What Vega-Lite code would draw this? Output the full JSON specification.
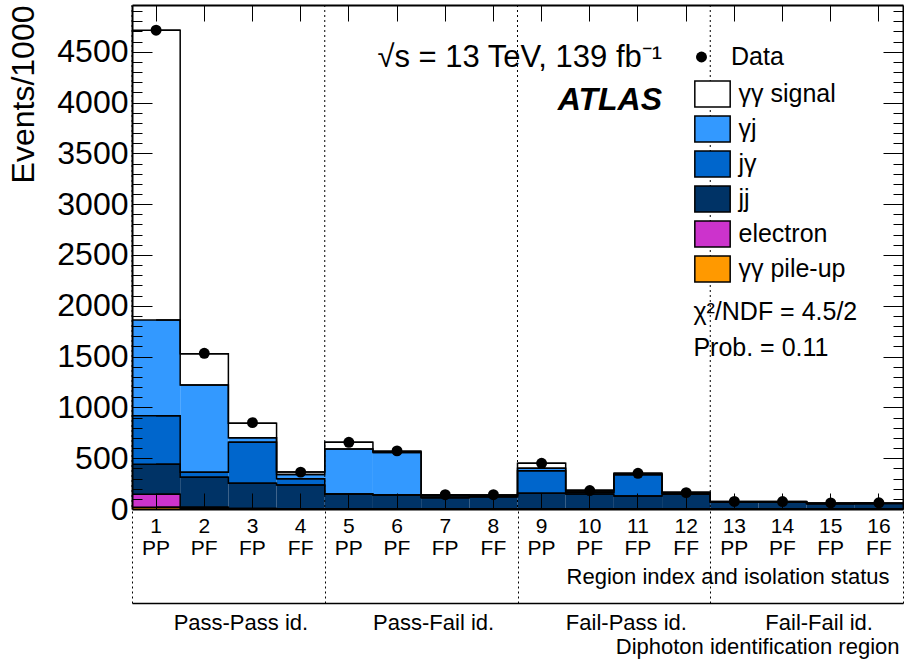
{
  "$schema": "https://vega.github.io/schema/vega-lite/v6.json",
  "width": 771,
  "height": 504,
  "autosize": {"type": "none"},
  "padding": {"left": 132, "top": 5, "right": 1, "bottom": 153},
  "config": {
    "font": "Liberation Sans",
    "view": {"stroke": null},
    "axis": {"domainColor": "black", "tickColor": "black", "labelColor": "black", "titleColor": "black", "grid": false}
  },
  "datasets": {
    "hist": [
      {"bin": 1, "data": 4712, "pileup": 17, "electron": 128, "jj": 295, "jgam": 478, "gamj": 942, "signal": 2851},
      {"bin": 2, "data": 1532, "pileup": 3, "electron": 14, "jj": 295, "jgam": 49, "gamj": 859, "signal": 308},
      {"bin": 3, "data": 850, "pileup": 1, "electron": 5, "jj": 247, "jgam": 403, "gamj": 46, "signal": 141},
      {"bin": 4, "data": 363, "pileup": 0.5, "electron": 2, "jj": 234, "jgam": 62, "gamj": 40, "signal": 26},
      {"bin": 5, "data": 656, "pileup": 0.5, "electron": 1.5, "jj": 143, "jgam": 3, "gamj": 442, "signal": 66},
      {"bin": 6, "data": 572, "pileup": 0.5, "electron": 1.5, "jj": 137, "jgam": 2, "gamj": 415, "signal": 12},
      {"bin": 7, "data": 141, "pileup": 0.5, "electron": 1.5, "jj": 109, "jgam": 4, "gamj": 16, "signal": 10},
      {"bin": 8, "data": 141, "pileup": 0.5, "electron": 1.5, "jj": 119, "jgam": 3, "gamj": 10, "signal": 5},
      {"bin": 9, "data": 450, "pileup": 0.5, "electron": 1.5, "jj": 153, "jgam": 222, "gamj": 23, "signal": 50},
      {"bin": 10, "data": 182, "pileup": 0.5, "electron": 1.5, "jj": 146, "jgam": 16, "gamj": 4, "signal": 16},
      {"bin": 11, "data": 351, "pileup": 0.5, "electron": 1.5, "jj": 126, "jgam": 210, "gamj": 3, "signal": 10},
      {"bin": 12, "data": 161, "pileup": 0.5, "electron": 1.5, "jj": 143, "jgam": 8, "gamj": 2, "signal": 9},
      {"bin": 13, "data": 74, "pileup": 0.3, "electron": 0.7, "jj": 67, "jgam": 2, "gamj": 1, "signal": 2},
      {"bin": 14, "data": 73, "pileup": 0.3, "electron": 0.7, "jj": 67, "jgam": 2, "gamj": 1, "signal": 2},
      {"bin": 15, "data": 60, "pileup": 0.3, "electron": 0.7, "jj": 52, "jgam": 1, "gamj": 1, "signal": 2},
      {"bin": 16, "data": 61, "pileup": 0.3, "electron": 0.7, "jj": 53, "jgam": 1, "gamj": 1, "signal": 2}
    ]
  },
  "layer": [
    {
      "data": {"name": "hist"},
      "layer": [
        {
          "transform": [
            {"fold": ["pileup", "electron", "jj", "jgam", "gamj", "signal"], "as": ["comp", "v"]},
            {"calculate": "indexof(['pileup','electron','jj','jgam','gamj','signal'], datum.comp)", "as": "k"},
            {"stack": "v", "groupby": ["bin"], "sort": [{"field": "k", "order": "ascending"}], "as": ["y0", "y1"]}
          ],
          "mark": {"type": "bar", "strokeWidth": 0},
          "encoding": {
            "x": {
              "field": "bin", "type": "ordinal",
              "scale": {"paddingInner": 0, "paddingOuter": 0},
              "axis": {
                "orient": "bottom", "zindex": 1, "domainColor": "black", "domainWidth": 2,
                "tickSize": -16, "tickWidth": 1, "tickColor": "black",
                "labelAngle": 0, "labelFontSize": 21, "labelLineHeight": 22.5, "labelBaseline": "top", "labelPadding": 22,
                "labelExpr": "[datum.label, ['FF','PP','PF','FP'][datum.value % 4]]",
                "title": "Region index and isolation status", "titleFontSize": 22, "titleFontWeight": "normal",
                "titleAlign": "right", "titleX": 757, "titleY": 67, "titleBaseline": "middle"
              }
            },
            "y": {
              "field": "y1", "type": "quantitative",
              "scale": {"domain": [0, 4960], "nice": false, "zero": true},
              "axis": {
                "orient": "left", "zindex": 1, "tickCount": 50, "format": "d",
                "domainColor": "black", "domainWidth": 2, "tickWidth": 1, "tickColor": "black",
                "tickSize": {"condition": {"test": "datum.value % 500 === 0", "value": -20}, "value": -10},
                "labelExpr": "datum.value % 500 === 0 ? datum.label : ''",
                "labelFontSize": 32, "labelPadding": 24, "labelOverlap": false,
                "title": "Events/1000", "titleFontSize": 32, "titleFontWeight": "normal",
                "titleAngle": -90, "titleAlign": "right", "titleBaseline": "alphabetic", "titleX": -99, "titleY": 0
              }
            },
            "y2": {"field": "y0"},
            "color": {
              "field": "comp", "type": "nominal",
              "scale": {
                "domain": ["signal", "gamj", "jgam", "jj", "electron", "pileup"],
                "range": ["#ffffff", "#3399ff", "#0066cc", "#003366", "#cc33cc", "#ff9900"]
              },
              "legend": {
                "orient": "none", "legendX": 566.5, "legendY": 75, "title": null, "direction": "vertical",
                "symbolType": "M-1.36,-1H1.36V1H-1.36Z", "symbolSize": 676,
                "symbolStrokeColor": "black", "symbolStrokeWidth": 1.5, "symbolOpacity": 1,
                "labelFontSize": 25, "labelColor": "black", "labelOffset": 12, "rowPadding": 3, "padding": 0,
                "labelExpr": "{'signal':'γγ signal','gamj':'γj','jgam':'jγ','jj':'jj','electron':'electron','pileup':'γγ pile-up'}[datum.label]"
              }
            }
          }
        },
        {
          "transform": [
            {"fold": ["pileup", "electron", "jj", "jgam", "gamj", "signal"], "as": ["comp", "v"]},
            {"calculate": "indexof(['pileup','electron','jj','jgam','gamj','signal'], datum.comp)", "as": "k"},
            {"stack": "v", "groupby": ["bin"], "sort": [{"field": "k", "order": "ascending"}], "as": ["y0", "y1"]}
          ],
          "mark": {"type": "line", "interpolate": "step", "color": "black", "strokeWidth": 1.5},
          "encoding": {
            "x": {
              "field": "bin", "type": "ordinal",
              "axis": {"orient": "top", "zindex": 1, "labels": false, "title": null, "domainColor": "black", "domainWidth": 2, "tickSize": -16, "tickWidth": 1, "tickColor": "black"}
            },
            "y": {
              "field": "y1", "type": "quantitative",
              "axis": {
                "orient": "right", "zindex": 1, "labels": false, "title": null, "tickCount": 50,
                "domainColor": "black", "domainWidth": 2, "tickWidth": 1, "tickColor": "black",
                "tickSize": {"condition": {"test": "datum.value % 500 === 0", "value": -20}, "value": -10}
              }
            },
            "detail": {"field": "comp"}
          }
        },
        {
          "transform": [
            {"fold": ["pileup", "electron", "jj", "jgam", "gamj", "signal"], "as": ["comp", "v"]},
            {"calculate": "indexof(['pileup','electron','jj','jgam','gamj','signal'], datum.comp)", "as": "k"},
            {"stack": "v", "groupby": ["bin"], "sort": [{"field": "k", "order": "ascending"}], "as": ["y0", "y1"]}
          ],
          "mark": {"type": "tick", "color": "black", "thickness": 1.5, "size": 48.2, "orient": "horizontal", "opacity": 1},
          "encoding": {
            "x": {"field": "bin", "type": "ordinal", "axis": null},
            "y": {"field": "y1", "type": "quantitative", "axis": null}
          }
        },
        {
          "mark": {"type": "point", "filled": true, "color": "black", "size": 120, "opacity": 1},
          "encoding": {
            "x": {"field": "bin", "type": "ordinal", "axis": null},
            "y": {"field": "data", "type": "quantitative", "axis": null},
            "shape": {
              "datum": "Data", "type": "nominal",
              "scale": {"range": ["circle"]},
              "legend": {
                "orient": "none", "legendX": 557, "legendY": 39.5, "title": null,
                "symbolSize": 120, "symbolFillColor": "black", "symbolStrokeColor": "black",
                "labelFontSize": 25, "labelColor": "black", "labelOffset": 17, "padding": 0
              }
            }
          }
        },
        {
          "data": {"values": [{"t": "√s = 13 TeV, 139 fb⁻¹", "bin": 11, "y": 4440}]},
          "mark": {"type": "text", "align": "right", "baseline": "middle", "fontSize": 31, "color": "black"},
          "encoding": {
            "x": {"field": "bin", "type": "ordinal", "bandPosition": 1, "axis": null},
            "y": {"field": "y", "type": "quantitative", "axis": null},
            "text": {"field": "t"}
          }
        },
        {
          "data": {"values": [{"t": "ATLAS", "bin": 11, "y": 4030}]},
          "mark": {"type": "text", "align": "right", "baseline": "middle", "fontSize": 32, "fontWeight": "bold", "fontStyle": "italic", "color": "black"},
          "encoding": {
            "x": {"field": "bin", "type": "ordinal", "bandPosition": 1, "axis": null},
            "y": {"field": "y", "type": "quantitative", "axis": null},
            "text": {"field": "t"}
          }
        },
        {
          "data": {"values": [{"t": "χ²/NDF = 4.5/2", "bin": 12, "y": 1939}, {"t": "Prob. = 0.11", "bin": 12, "y": 1585}]},
          "mark": {"type": "text", "align": "left", "baseline": "middle", "fontSize": 25, "color": "black"},
          "encoding": {
            "x": {"field": "bin", "type": "ordinal", "bandPosition": 0.65, "axis": null},
            "y": {"field": "y", "type": "quantitative", "axis": null},
            "text": {"field": "t"}
          }
        }
      ],
      "resolve": {"axis": {"x": "independent", "y": "independent"}}
    },
    {
      "data": {"values": [{"g": "Pass-Pass id."}, {"g": "Pass-Fail id."}, {"g": "Fail-Pass id."}, {"g": "Fail-Fail id."}]},
      "mark": {"type": "rule", "strokeDash": [2, 3], "color": "black", "strokeWidth": 1},
      "encoding": {
        "x": {
          "field": "g", "type": "ordinal", "sort": null, "bandPosition": 0,
          "scale": {"paddingInner": 0, "paddingOuter": 0},
          "axis": {
            "orient": "bottom", "offset": 94, "zindex": 1, "tickBand": "extent",
            "tickSize": -94, "tickDash": [2, 3], "tickWidth": 1, "tickColor": "black",
            "domainColor": "black", "domainWidth": 1.5,
            "labelAngle": 0, "labelFontSize": 22, "labelBaseline": "top", "labelPadding": 103, "labelOffset": 12,
            "title": "Diphoton identification region", "titleFontSize": 22, "titleFontWeight": "normal",
            "titleAlign": "right", "titleX": 767, "titleY": 43, "titleBaseline": "middle"
          }
        }
      }
    }
  ],
  "resolve": {"scale": {"x": "independent"}, "axis": {"x": "independent"}}
}
